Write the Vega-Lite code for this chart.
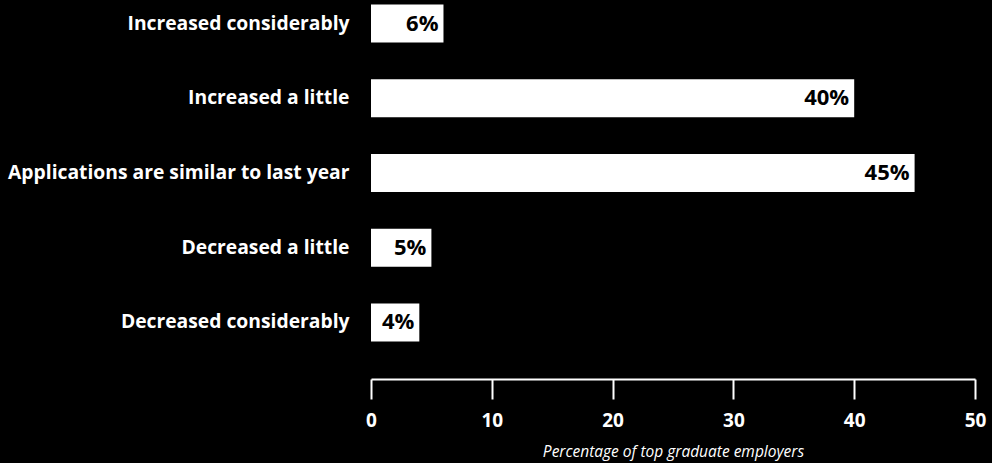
{
  "$schema": "https://vega.github.io/schema/vega-lite/v6.json",
  "autosize": {"type": "none"},
  "width": 604,
  "height": 346,
  "padding": {"left": 371, "top": 0, "right": 17, "bottom": 117},
  "background": "#000000",
  "config": {"view": {"stroke": null}, "font": "Open Sans"},
  "data": {"values": [
    {"response": "Increased considerably", "pct": 6, "label": "6%"},
    {"response": "Increased a little", "pct": 40, "label": "40%"},
    {"response": "Applications are similar to last year", "pct": 45, "label": "45%"},
    {"response": "Decreased a little", "pct": 5, "label": "5%"},
    {"response": "Decreased considerably", "pct": 4, "label": "4%"}
  ]},
  "encoding": {
    "y": {"field": "response", "type": "nominal", "sort": null,
      "scale": {"paddingInner": 0.49, "paddingOuter": 0.06},
      "axis": {"title": null, "domain": false, "ticks": false, "labelPadding": 22, "labelLimit": 500,
        "labelColor": "#ffffff", "labelFont": "Open Sans", "labelFontWeight": "bold", "labelFontSize": 19.3}},
    "x": {"field": "pct", "type": "quantitative",
      "scale": {"domain": [0, 50], "nice": false},
      "axis": {"title": "Percentage of top graduate employers", "values": [0, 10, 20, 30, 40, 50],
        "offset": 33, "grid": false, "domainColor": "#ffffff", "domainWidth": 2,
        "tickColor": "#ffffff", "tickWidth": 2, "tickSize": 20, "labelPadding": 12, "labelFlush": false,
        "labelColor": "#ffffff", "labelFont": "Open Sans", "labelFontWeight": "bold", "labelFontSize": 19,
        "titleColor": "#ffffff", "titleFont": "Open Sans", "titleFontStyle": "italic", "titleFontWeight": "normal",
        "titleFontSize": 15.5, "titlePadding": 14}}
  },
  "layer": [
    {"mark": {"type": "bar", "color": "#ffffff"}},
    {"mark": {"type": "text", "align": "right", "dx": -5, "color": "#000000", "font": "Open Sans", "fontWeight": "bold", "fontSize": 22},
      "encoding": {"text": {"field": "label", "type": "nominal"}}}
  ]
}
